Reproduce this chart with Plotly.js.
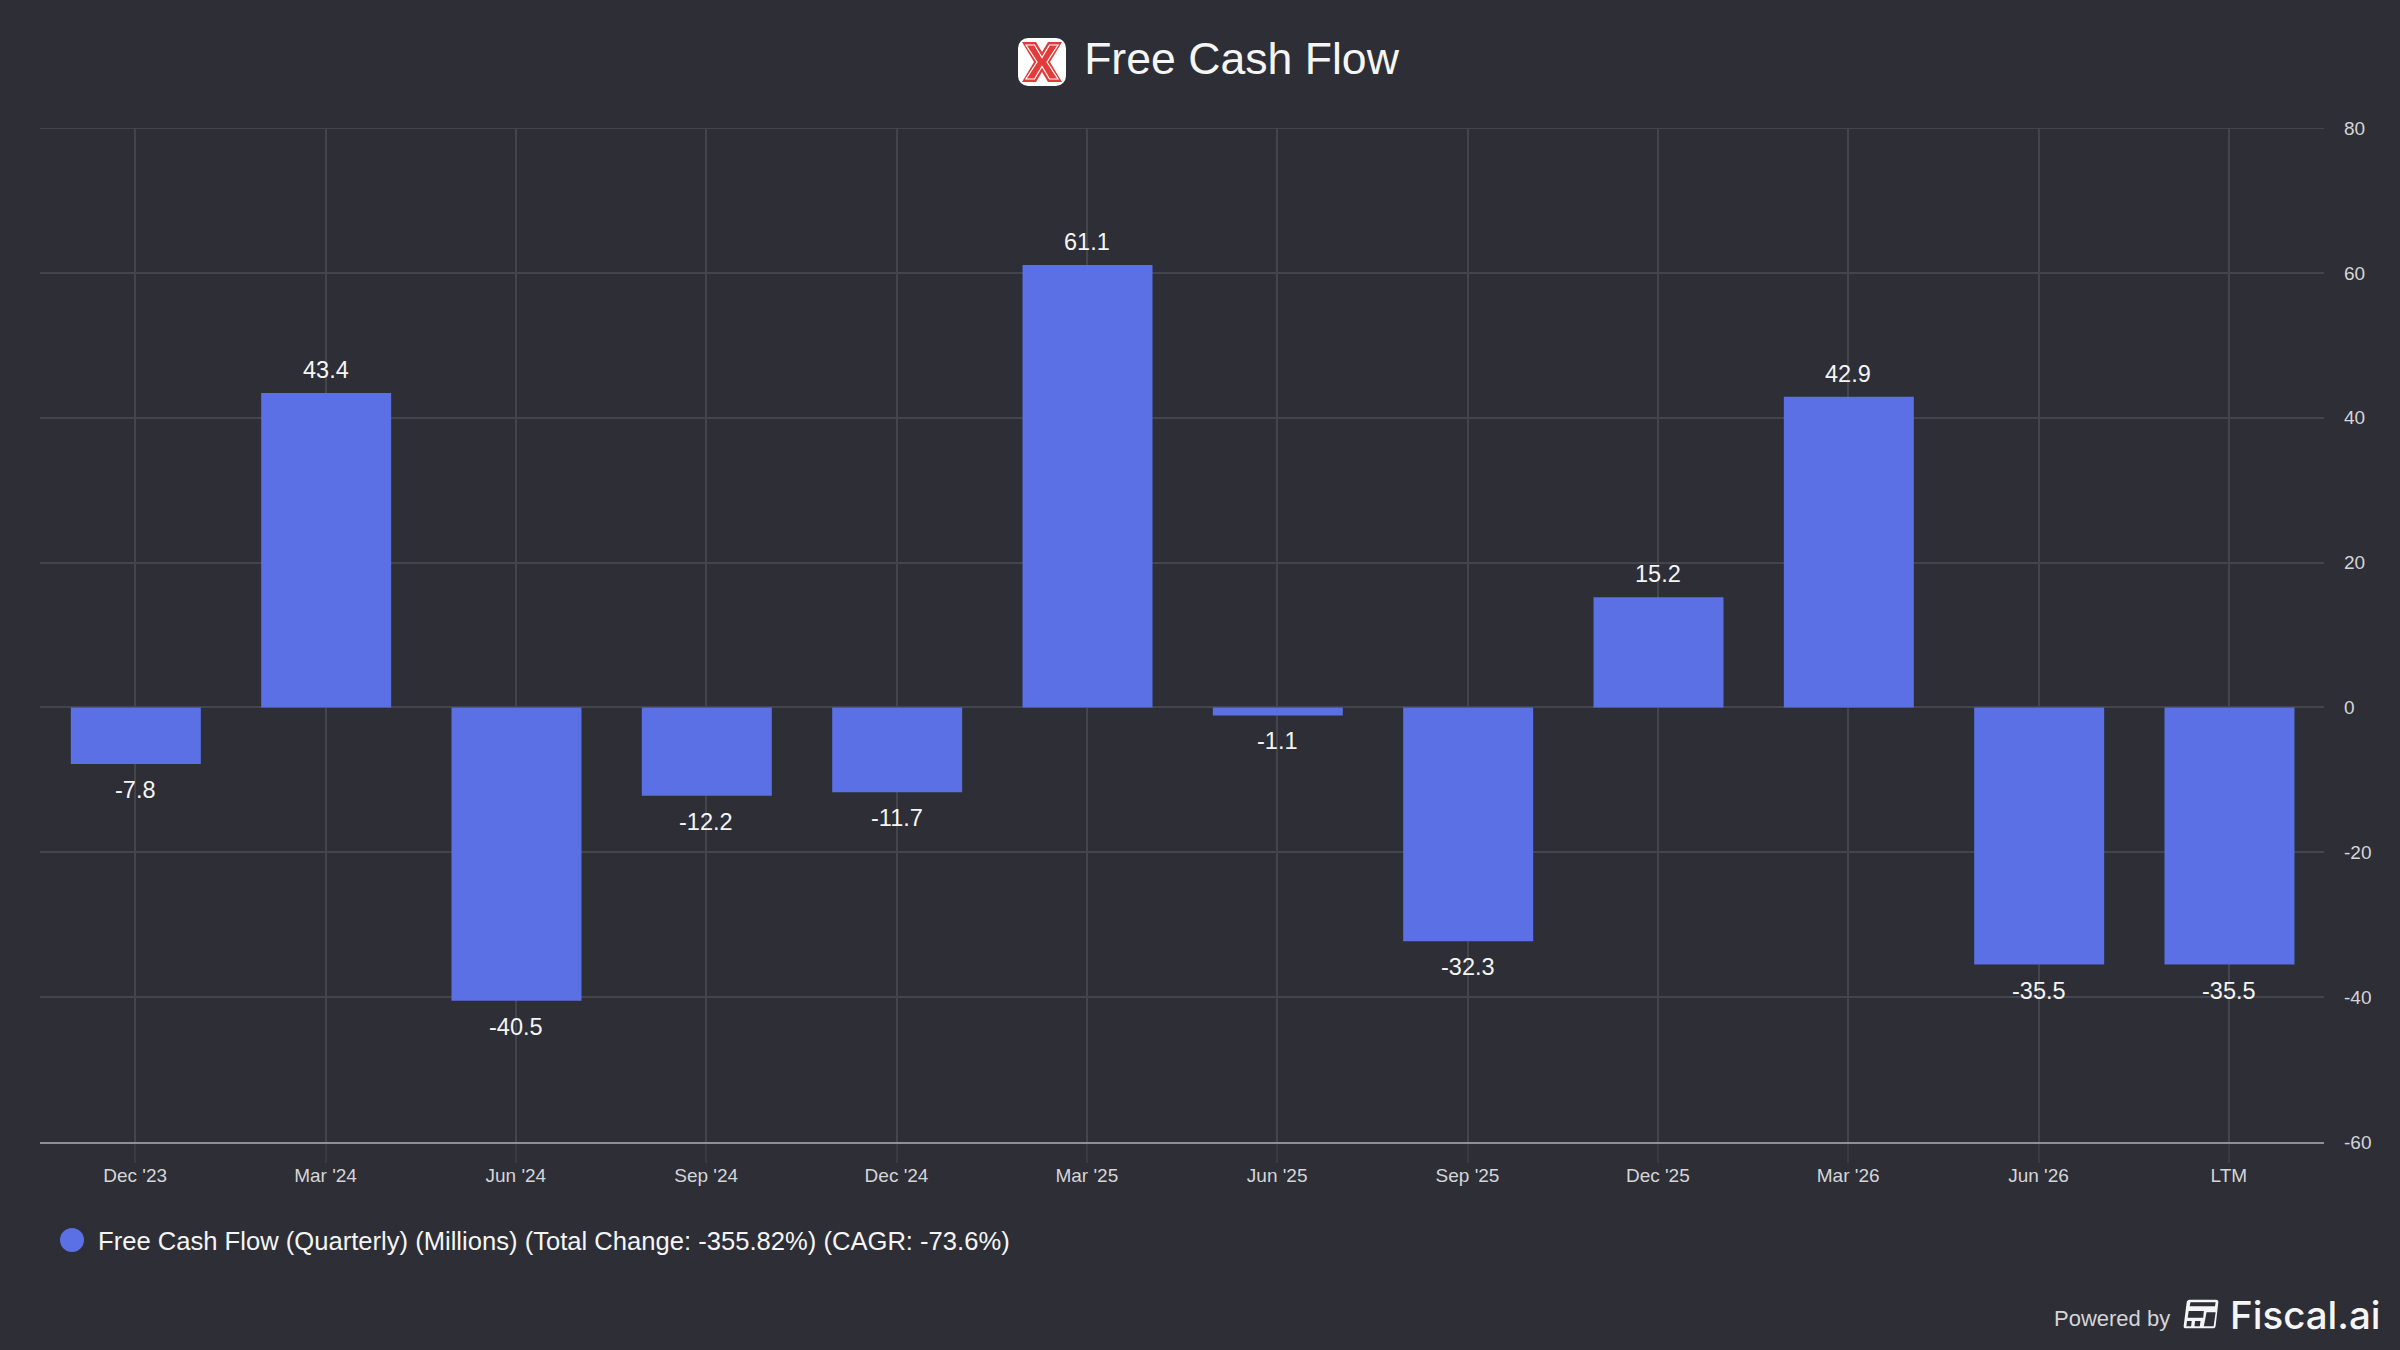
<!DOCTYPE html>
<html>
<head>
<meta charset="utf-8">
<script src="https://cdn.plot.ly/plotly-3.0.1.min.js"></script>
<style>
  html, body { margin: 0; padding: 0; background: #2d2e36; }
</style>
</head>
<body>
<div id="plot" style="width:2400px;height:1350px;"></div>
<script>
var categories = ["Dec '23", "Mar '24", "Jun '24", "Sep '24", "Dec '24", "Mar '25", "Jun '25", "Sep '25", "Dec '25", "Mar '26", "Jun '26", "LTM"];
var fcfValues = [-7.8, 43.4, -40.5, -12.2, -11.7, 61.1, -1.1, -32.3, 15.2, 42.9, -35.5, -35.5];
var yTicks = [-60, -40, -20, 0, 20, 40, 60, 80];
var yTickLabels = ['-60', '-40', '-20', '0', '20', '40', '60', '80'];
var seriesName = 'Free Cash Flow (Quarterly) (Millions) (Total Change: -355.82%) (CAGR: -73.6%)';

var bgColor = '#2d2e36';
var barColor = '#5b70e4';
var gridColor = '#43444c';
var fontName = '"Liberation Sans", Arial, sans-serif';

var plotW = 2284;
var plotH = 1014;
var plotL = 40;
var plotB = 1142;

var xLogo = '<svg xmlns="http://www.w3.org/2000/svg" viewBox="0 0 48 48">' +
  '<rect width="48" height="48" rx="10" fill="#ffffff"/>' +
  '<path d="M4 4H18L24 14L30 4H44L32 24L44 44H30L24 34L18 44H4L16 24Z" fill="#e23b3b"/>' +
  '<path d="M8 7H16.5L24 19.5L31.5 7H40L29 24L40 41H31.5L24 28.5L16.5 41H8L19 24Z" fill="none" stroke="#ffffff" stroke-width="1.2"/>' +
  '</svg>';
var fiscalLogo = '<svg xmlns="http://www.w3.org/2000/svg" viewBox="0 0 107 90">' +
  '<path d="M20 2H98Q106 2 105 10L97 80Q96 88 88 88H9Q1 88 2 80L11 10Q12 2 20 2Z" fill="#f5f5f5"/>' +
  '<path d="M22 10H97L95 22H20Z M17 36H62L60 56H14Z M12 66H26L24 82H10Z M36 66H52L50 82H34Z M70 40H97L91 82H62Z" fill="#2d2e36"/>' +
  '</svg>';

function svgUri(svg) {
  return 'data:image/svg+xml;charset=utf-8,' + encodeURIComponent(svg);
}
// pixel position on the page to paper coordinates, for the header and footer bits
function paperX(px) {
  return (px - plotL) / plotW;
}
function paperY(py) {
  return (plotB - py) / plotH;
}

var data = [
  {
    type: 'bar',
    x: categories,
    y: fcfValues,
    width: 0.683,
    offset: -0.338,
    marker: { color: barColor },
    showlegend: false,
    hoverinfo: 'x+y'
  },
  {
    // only here for the legend entry
    type: 'scatter',
    mode: 'markers',
    x: [categories[0]],
    y: [null],
    name: seriesName,
    marker: { color: barColor, size: 16, line: { color: barColor, width: 5 } }
  }
];

var annotations = [];
for (var i = 0; i < categories.length; i++) {
  var up = fcfValues[i] >= 0;
  annotations.push({
    x: categories[i],
    y: fcfValues[i],
    xref: 'x',
    yref: 'y',
    text: fcfValues[i].toFixed(1),
    showarrow: false,
    xanchor: 'center',
    yanchor: up ? 'bottom' : 'top',
    yshift: up ? 8 : -11,
    font: { family: fontName, size: 23.5, color: '#f5f5f5' }
  });
}
annotations.push({
  xref: 'paper', yref: 'paper',
  x: paperX(2172), y: paperY(1333),
  xanchor: 'right', yanchor: 'bottom',
  text: 'Powered by',
  showarrow: false,
  font: { family: fontName, size: 22, color: '#d5d5d8' }
});
annotations.push({
  xref: 'paper', yref: 'paper',
  x: paperX(2228), y: paperY(1340),
  xanchor: 'left', yanchor: 'bottom',
  text: 'Fiscal.ai',
  showarrow: false,
  font: { family: 'Inter, ' + fontName, size: 38.5, weight: 500, color: '#f5f5f5' }
});

var layout = {
  width: 2400,
  height: 1350,
  paper_bgcolor: bgColor,
  plot_bgcolor: bgColor,
  margin: { l: 40, r: 76, t: 128, b: 208, pad: 0 },
  font: { family: fontName, color: '#d5d5d8', size: 19 },
  title: {
    text: 'Free Cash Flow',
    x: 1241.5 / 2400,
    xanchor: 'center',
    y: 1 - 58 / 1350,
    yanchor: 'middle',
    font: { family: fontName, size: 44.6, color: '#f5f5f5' }
  },
  xaxis: {
    type: 'category',
    range: [-0.5, 11.5],
    tickmode: 'array',
    tickvals: categories,
    ticktext: categories,
    showgrid: true,
    gridcolor: gridColor,
    gridwidth: 2,
    ticks: 'outside',
    ticklen: 19,
    tickwidth: 2,
    tickcolor: '#3a3b42',
    ticklabelstandoff: -4,
    showline: true,
    linecolor: '#8f8f97',
    linewidth: 2,
    zeroline: false,
    tickfont: { family: fontName, size: 19, color: '#d5d5d8' }
  },
  yaxis: {
    side: 'right',
    range: [-60, 80],
    tickmode: 'array',
    tickvals: yTicks,
    ticktext: yTickLabels,
    showgrid: true,
    gridcolor: gridColor,
    gridwidth: 2,
    zeroline: true,
    zerolinecolor: gridColor,
    zerolinewidth: 2,
    showline: false,
    ticks: '',
    ticklabelstandoff: 19,
    tickfont: { family: fontName, size: 19, color: '#d5d5d8' }
  },
  showlegend: true,
  legend: {
    orientation: 'h',
    x: 44 / 2400,
    xref: 'container',
    y: 1 - 1240 / 1350,
    yref: 'container',
    xanchor: 'left',
    yanchor: 'middle',
    itemsizing: 'trace',
    itemwidth: 44,
    font: { family: fontName, size: 25.6, color: '#f5f5f5' },
    bgcolor: 'rgba(0,0,0,0)'
  },
  shapes: [
    // plotly drops the gridline at the very top of the range
    {
      type: 'line', layer: 'below',
      xref: 'paper', yref: 'y',
      x0: 0, x1: 1, y0: yTicks[yTicks.length - 1], y1: yTicks[yTicks.length - 1],
      line: { color: gridColor, width: 2 }
    },
    // legend dots stop at 21px, the one in the picture is 24px
    {
      type: 'circle', layer: 'above',
      xref: 'paper', yref: 'paper',
      x0: paperX(60), x1: paperX(84), y0: paperY(1252), y1: paperY(1228),
      fillcolor: barColor,
      line: { width: 0 }
    }
  ],
  annotations: annotations,
  images: [
    {
      source: svgUri(xLogo),
      xref: 'paper', yref: 'paper',
      x: paperX(1018), y: paperY(38),
      sizex: 48 / plotW, sizey: 48 / plotH,
      xanchor: 'left', yanchor: 'top',
      sizing: 'stretch', layer: 'above'
    },
    {
      source: svgUri(fiscalLogo),
      xref: 'paper', yref: 'paper',
      x: paperX(2183), y: paperY(1299),
      sizex: 36 / plotW, sizey: 30 / plotH,
      xanchor: 'left', yanchor: 'top',
      sizing: 'stretch', layer: 'above'
    }
  ],
  hovermode: 'closest'
};

Plotly.newPlot('plot', data, layout, { displayModeBar: false });
</script>
</body>
</html>
